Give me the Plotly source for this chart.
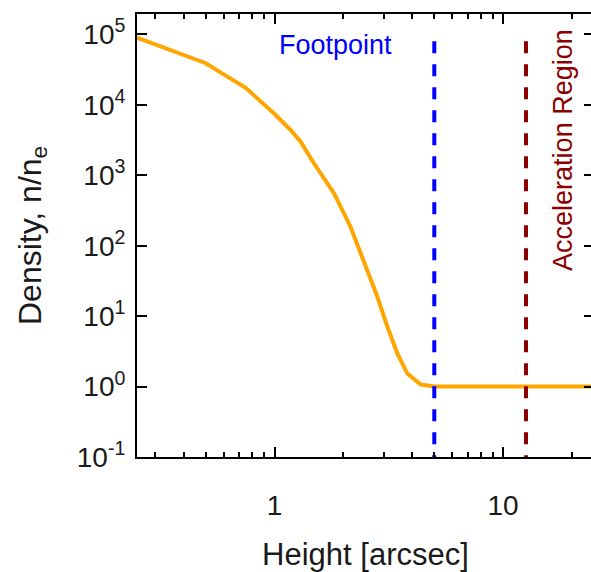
import numpy as np
import plotly.graph_objects as go

# Data
height = [0.25, 0.5, 0.75, 1.0, 1.175, 1.3, 1.486, 1.65, 1.82, 2.15, 2.46, 2.82, 3.12,
          3.45, 3.81, 4.36, 4.99, 7.0, 10.0, 15.0, 25.0]
density = [9.0e4, 3.9e4, 1.73e4, 7.4e3, 4.4e3, 3.0e3, 1.48e3, 880, 555, 186, 62, 18.7, 7.0,
           2.94, 1.53, 1.07, 1.0, 1.0, 1.0, 1.0, 1.0]
footpoint_x = 5.0
accel_x = 12.6
vline_y = [8e4, 0.1]
ytick_vals = [1e-1, 1e0, 1e1, 1e2, 1e3, 1e4, 1e5]
ytick_text = ["10<sup>-1</sup>", "10<sup>0</sup>", "10<sup>1</sup>", "10<sup>2</sup>",
              "10<sup>3</sup>", "10<sup>4</sup>", "10<sup>5</sup>"]
xtick_vals = [1, 10]
xtick_text = ["1", "10"]
xminor_vals = [0.3, 0.4, 0.5, 0.6, 0.7, 0.8, 0.9, 2, 3, 4, 5, 6, 7, 8, 9, 20]

FONT = "Liberation Sans, Arial, Helvetica, sans-serif"
TXT = "#1a1a1a"
YRANGE = [-1, 5.29]

fig = go.Figure()
fig.add_trace(go.Scatter(x=height, y=density, mode="lines",
                         line=dict(color="#FFA500", width=4),
                         showlegend=False))
fig.add_trace(go.Scatter(x=[footpoint_x, footpoint_x], y=vline_y, mode="lines",
                         line=dict(color="#0000FF", width=4, dash="12px,11px"),
                         showlegend=False))
fig.add_trace(go.Scatter(x=[accel_x, accel_x], y=vline_y, mode="lines",
                         line=dict(color="#8B0000", width=4, dash="12px,11px"),
                         showlegend=False))

fig.update_layout(
    width=594, height=572,
    margin=dict(l=137, r=0, t=14, b=115, autoexpand=False),
    paper_bgcolor="white", plot_bgcolor="white",
    font=dict(family=FONT, size=27, color=TXT),
    xaxis=dict(type="log", range=[np.log10(0.25), np.log10(25)],
               automargin=False,
               showline=True, linecolor="black", linewidth=2, mirror="ticks",
               ticks="inside", ticklen=10, tickwidth=2, tickcolor="black",
               tickvals=xtick_vals, ticktext=xtick_text,
               tickfont=dict(size=28),
               minor=dict(ticks="inside", ticklen=5, tickwidth=1.5, tickcolor="black",
                          tickvals=xminor_vals),
               showgrid=False, zeroline=False,
               ticklabelstandoff=22,
               title=dict(text="Height [arcsec]", font=dict(size=31), standoff=30)),
    yaxis=dict(type="log", range=YRANGE, automargin=False,
               showline=True, linecolor="black", linewidth=2, mirror="ticks",
               ticks="inside", ticklen=10, tickwidth=2, tickcolor="black",
               tickvals=ytick_vals, ticktext=ytick_text,
               tickfont=dict(size=28),
               showgrid=False, zeroline=False,
               ticklabelstandoff=4,
               title=dict(text="Density, n/n<sub>e</sub>", font=dict(size=32), standoff=26)),
    annotations=[
        dict(text="Footpoint", xref="paper", yref="paper", x=0.434, y=0.930,
             xanchor="center", yanchor="middle",
             showarrow=False, font=dict(color="#0000FF", size=27, family=FONT)),
        dict(text="Acceleration Region", xref="paper", yref="paper", x=0.932, y=0.693,
             xanchor="center", yanchor="middle",
             showarrow=False, textangle=-90, font=dict(color="#8B0000", size=27, family=FONT)),
    ],
)

fig.write_html("out.html", config={"displayModeBar": False},
               post_script="document.body.style.margin='0';document.body.style.overflow='hidden';")
